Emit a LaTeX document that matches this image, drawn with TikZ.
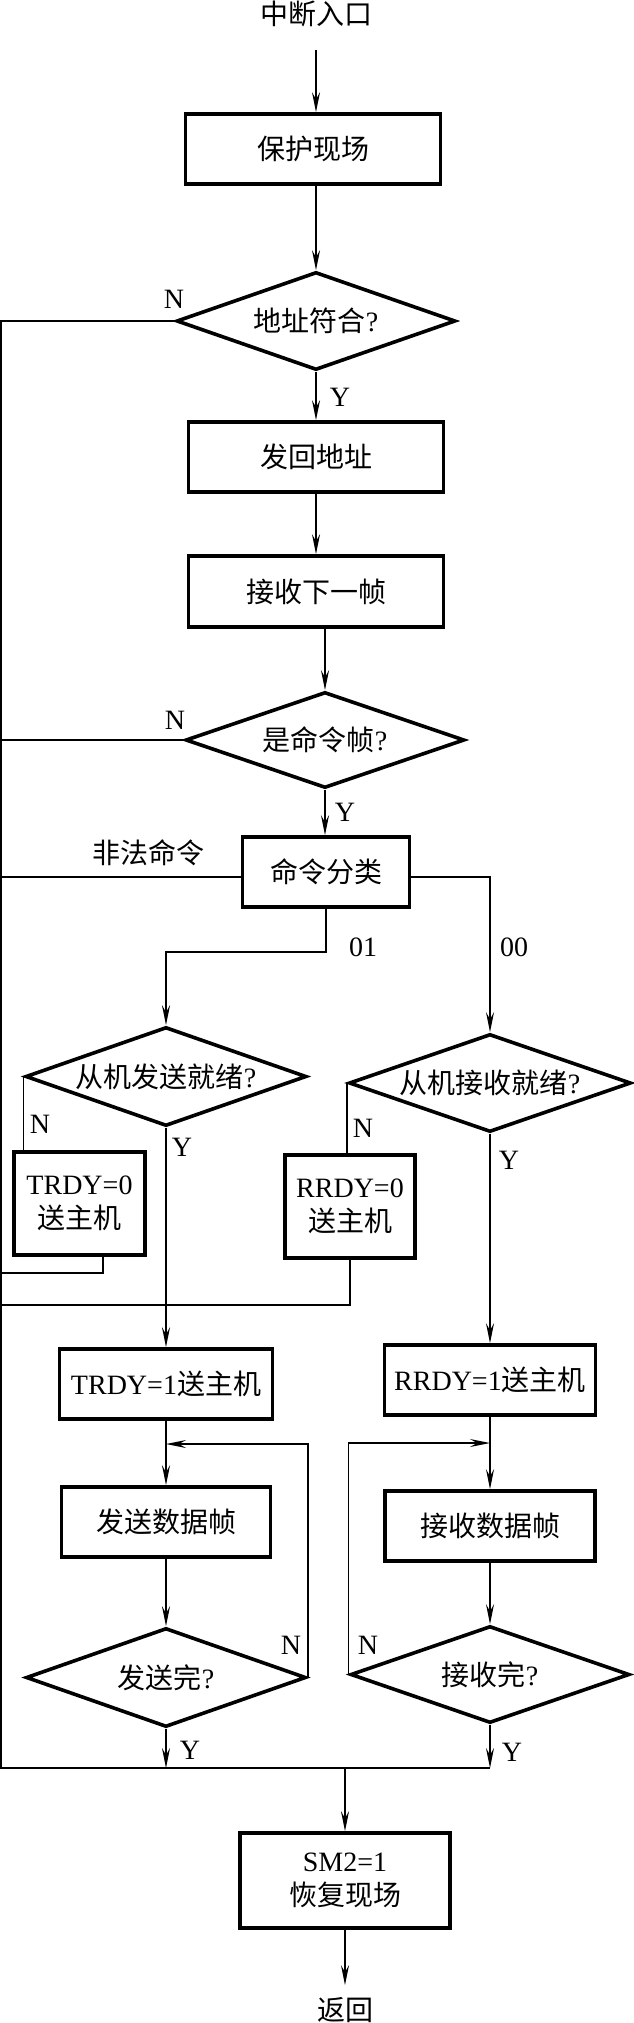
\documentclass[tikz,border=0pt]{standalone}
\usepackage{fontspec}
\setmainfont{Liberation Serif}
\newfontfamily\cjk{Noto Sans CJK SC}
\usetikzlibrary{shapes.geometric,arrows.meta}
\newcommand{\dtext}[1]{\makebox[0pt]{#1}}
\begin{document}
\begin{tikzpicture}[x=1pt,y=-1pt,
  every node/.style={font=\fontsize{28}{34}\selectfont},
  box/.style={draw, line width=3.6pt, inner sep=0pt, align=center},
  dec/.style={draw, shape=diamond, line width=3.6pt, inner sep=0pt},
  lab/.style={inner sep=0pt},
  conn/.style={line width=1.5pt},
  arr/.style={line width=1.5pt, -{Stealth[length=20pt,width=8pt,inset=7pt]}}]
\path[fill=white] (0,0) rectangle (633,2023);
% main nodes
\node[lab] (start) at (316,14) {\cjk 中断入口};
\node[box, minimum width=255pt, minimum height=70pt] (b1) at (313,149) {\cjk 保护现场};
\node[dec, minimum width=279pt, minimum height=98pt] (d1) at (316,321) {\dtext{{\cjk 地址符合}?}};
\node[box, minimum width=255pt, minimum height=70pt] (b2) at (316,457) {\cjk 发回地址};
\node[box, minimum width=255pt, minimum height=71pt] (b3) at (316,591.5) {\cjk 接收下一帧};
\node[dec, minimum width=279pt, minimum height=96pt] (d2) at (325,740) {\dtext{{\cjk 是命令帧}?}};
\node[box, minimum width=167pt, minimum height=70pt] (b4) at (326,872) {\cjk 命令分类};
\node[dec, minimum width=281pt, minimum height=99pt] (d3) at (166,1076.5) {\dtext{{\cjk 从机发送就绪}?}};
\node[dec, minimum width=282pt, minimum height=98pt] (d4) at (490,1083) {\dtext{{\cjk 从机接收就绪}?}};
\node[box, minimum width=131pt, minimum height=103pt] (b5) at (79.5,1203.5) {TRDY=0\\{\cjk 送主机}};
\node[box, minimum width=130pt, minimum height=103pt] (b6) at (350,1206.5) {RRDY=0\\{\cjk 送主机}};
\node[box, minimum width=213pt, minimum height=70pt] (b7) at (166,1384) {TRDY=1{\cjk 送主机}};
\node[box, minimum width=211pt, minimum height=70pt] (b8) at (490,1380) {RRDY=1{\cjk 送主机}};
\node[box, minimum width=209pt, minimum height=70pt] (b9) at (166,1522) {\cjk 发送数据帧};
\node[box, minimum width=210pt, minimum height=70pt] (b10) at (490,1526) {\cjk 接收数据帧};
\node[dec, minimum width=280pt, minimum height=99pt] (d5) at (166,1677.5) {\dtext{{\cjk 发送完}?}};
\node[dec, minimum width=279pt, minimum height=97pt] (d6) at (490,1674.5) {\dtext{{\cjk 接收完}?}};
\node[box, minimum width=210pt, minimum height=95pt] (b11) at (345,1880.5) {SM2=1\\{\cjk 恢复现场}};
\node[lab] (end) at (345,2010) {\cjk 返回};
% labels
\node[lab] (n1) at (174,299) {N};
\node[lab] (y1) at (340,397) {Y};
\node[lab] (n2) at (175,720) {N};
\node[lab] (y2) at (345,812) {Y};
\node[lab] (ill) at (148,853) {\cjk 非法命令};
\node[lab] (c01) at (363,947) {01};
\node[lab] (c00) at (514,947) {00};
\node[lab] (n3) at (40,1124) {N};
\node[lab] (y3) at (182,1147) {Y};
\node[lab] (n4) at (363,1128) {N};
\node[lab] (y4) at (509,1160) {Y};
\node[lab] (n5) at (291,1645) {N};
\node[lab] (n6) at (368,1645) {N};
\node[lab] (y5) at (190,1750) {Y};
\node[lab] (y6) at (512,1752) {Y};
% coordinates
\coordinate (busT) at (1,321);
\coordinate (busB) at (1,1768);
\coordinate (j01) at (166,952);
\coordinate (b5x) at (103,1273);
\coordinate (b6y) at (350,1305);
\coordinate (jL) at (166,1444);
\coordinate (jR) at (490,1443);
% connectors
\draw[arr] ([yshift=-23pt]start.south) -- (start.south |- b1.north);
\draw[arr] (b1.south -| d1.north) -- (d1.north);
\draw[arr] (d1.south) -- (b2.north);
\draw[arr] (b2.south) -- (b3.north);
\draw[arr] (b3.south -| d2.north) -- (d2.north);
\draw[conn] (d1.west) -- (busT) -- (busB) -- (busB -| d6.south);
\draw[conn] (d2.west) -- (d2.west -| busT);
\draw[arr] (d2.south) -- (d2.south |- b4.north);
\draw[conn] ([yshift=-5pt]b4.west) -- ([yshift=-5pt]b4.west -| busT);
\draw[arr] ([yshift=-5pt]b4.east) -| (d4.north);
\draw[arr] (b4.south) -- (b4.south |- j01) -- (j01) -- (d3.north);
\draw[conn] (d3.west) -- (d3.west |- b5.north);
\draw[conn] (b5x |- b5.south) -- (b5x) -- (b5x -| busT);
\draw[arr] (d3.south) -- (b7.north);
\draw[conn] (d4.west) -- (d4.west |- b6.north);
\draw[conn] (b6.south) -- (b6y) -- (b6y -| busT);
\draw[arr] (d4.south) -- (b8.north);
\draw[arr] (b7.south) -- (b9.north);
\draw[arr] (b9.south) -- (d5.north);
\draw[arr] (d5.east) -- (d5.east |- jL) -- (jL);
\draw[arr] (d5.south) -- (d5.south |- busB);
\draw[arr] (b8.south) -- (b10.north);
\draw[arr] (b10.south) -- (d6.north);
\draw[arr] (d6.west) -- (d6.west |- jR) -- (jR);
\draw[arr] (d6.south) -- (d6.south |- busB);
\draw[arr] (busB -| b11.north) -- (b11.north);
\draw[arr] (b11.south) -- ([yshift=12pt]end.north);
\end{tikzpicture}
\end{document}
